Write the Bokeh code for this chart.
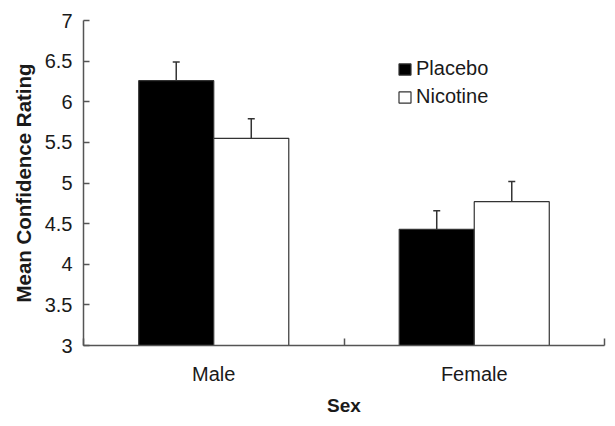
from bokeh.plotting import figure
from bokeh.models import (ColumnDataSource, FixedTicker, NumeralTickFormatter, Range1d,
                          Whisker, TeeHead, Legend, LegendItem)
from bokeh.embed import file_html
from bokeh.resources import INLINE

sexes = ["Male", "Female"]
treatments = ["Placebo", "Nicotine"]
placebo = [6.26, 4.43]
nicotine = [5.55, 4.77]
placebo_se = [0.23, 0.23]
nicotine_se = [0.24, 0.25]
y_ticks = [3, 3.5, 4, 4.5, 5, 5.5, 6, 6.5, 7]
x_title = "Sex"
y_title = "Mean Confidence Rating"

FONT = "Liberation Sans"
TXT = "#1a1a1a"
AX = "#555555"

p = figure(width=607, height=418, output_backend="svg", toolbar_location=None,
           x_range=Range1d(0, len(sexes)), y_range=Range1d(3, 7),
           min_border_left=83, min_border_right=3, min_border_top=20, min_border_bottom=66)
p.outline_line_color = None
p.xgrid.grid_line_color = None
p.ygrid.grid_line_color = None

bw = 0.288
centers = [i + 0.5 for i in range(len(sexes))]
src_p = ColumnDataSource(dict(x=[c - bw / 2 for c in centers], top=placebo,
                              upper=[v + s for v, s in zip(placebo, placebo_se)]))
src_n = ColumnDataSource(dict(x=[c + bw / 2 for c in centers], top=nicotine,
                              upper=[v + s for v, s in zip(nicotine, nicotine_se)]))

for src in (src_p, src_n):
    p.add_layout(Whisker(source=src, base="x", lower="top", upper="upper",
                         line_color="#333333", line_width=1.5,
                         upper_head=TeeHead(size=7, line_color="#333333", line_width=1.5),
                         lower_head=None, level="underlay"))

r1 = p.vbar(x="x", top="top", bottom=3, width=bw, source=src_p,
            fill_color="black", line_color="#333333", line_width=1.2)
r2 = p.vbar(x="x", top="top", bottom=3, width=bw, source=src_n,
            fill_color="white", line_color="#333333", line_width=1.2)

legend = Legend(items=[LegendItem(label=treatments[0], renderers=[r1]),
                       LegendItem(label=treatments[1], renderers=[r2])],
                location=(314, 237), orientation="vertical",
                border_line_alpha=0, background_fill_alpha=0,
                padding=0, margin=0, spacing=5,
                glyph_width=15, glyph_height=14, label_standoff=4,
                label_text_font=FONT, label_text_font_size="20px",
                label_text_color=TXT)
p.add_layout(legend)

# y axis
ya = p.yaxis[0]
ya.ticker = FixedTicker(ticks=y_ticks)
ya.formatter = NumeralTickFormatter(format="0.[0]")
ya.axis_label = y_title
ya.axis_label_text_font = FONT
ya.axis_label_text_font_style = "bold"
ya.axis_label_text_font_size = "20.5px"
ya.axis_label_text_color = TXT
ya.axis_label_standoff = 7
ya.major_label_text_font = FONT
ya.major_label_text_font_size = "20px"
ya.major_label_text_color = TXT
ya.major_label_standoff = 11
ya.major_tick_in = 6
ya.major_tick_out = 0
ya.minor_tick_line_color = None
ya.axis_line_color = AX
ya.axis_line_width = 1.5
ya.major_tick_line_color = AX
ya.major_tick_line_width = 1.5

# x axis
xa = p.xaxis[0]
xa.ticker = FixedTicker(ticks=centers, minor_ticks=list(range(len(sexes) + 1)))
xa.major_label_overrides = {c: s for c, s in zip(centers, sexes)}
xa.axis_label = x_title
xa.axis_label_text_font = FONT
xa.axis_label_text_font_style = "bold"
xa.axis_label_text_font_size = "19px"
xa.axis_label_text_color = TXT
xa.axis_label_text_line_height = 0.8
xa.axis_label_standoff = 7
xa.major_label_text_font = FONT
xa.major_label_text_font_size = "20px"
xa.major_label_text_color = TXT
xa.major_label_standoff = 17
xa.major_tick_in = 0
xa.major_tick_out = 0
xa.minor_tick_in = 7
xa.minor_tick_out = 0
xa.minor_tick_line_color = AX
xa.minor_tick_line_width = 1.5
xa.axis_line_color = AX
xa.axis_line_width = 1.5

open("out.html", "w").write(file_html(p, INLINE))
